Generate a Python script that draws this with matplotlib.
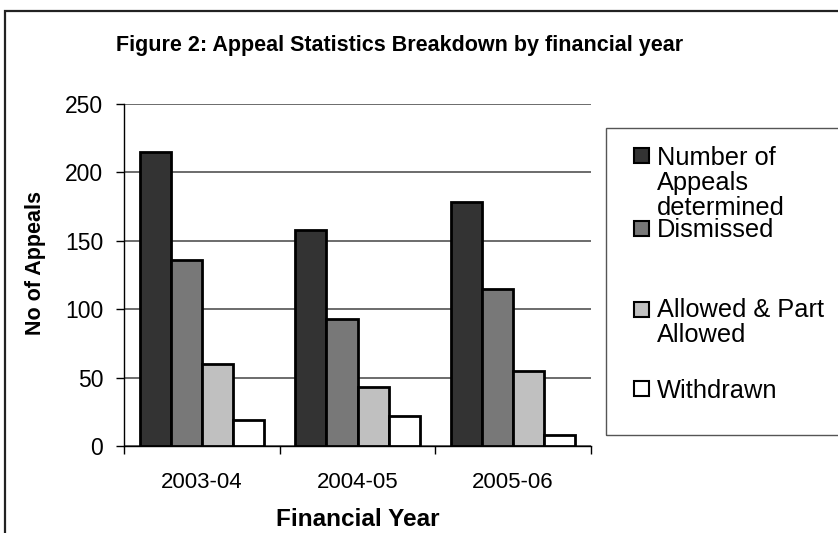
import matplotlib
matplotlib.use("Agg")
import numpy as np
import matplotlib.pyplot as plt
from matplotlib.patches import Rectangle

plt.rcParams["font.family"] = ["Liberation Sans", "DejaVu Sans"]

# Appeal counts per financial year
years = ["2003-04", "2004-05", "2005-06"]
series_names = [
    "Number of\nAppeals\ndetermined",
    "Dismissed",
    "Allowed & Part\nAllowed",
    "Withdrawn",
]
determined = [215, 158, 178]
dismissed = [136, 93, 115]
allowed = [60, 43, 55]
withdrawn = [19, 22, 8]

series_values = [determined, dismissed, allowed, withdrawn]
fills = ["#333333", "#787878", "#c0c0c0", "#ffffff"]

W, H = 838, 533
fig = plt.figure(figsize=(W / 100, H / 100), dpi=100)

def fx(px):
    return px / W

def fy(py):
    return 1 - py / H

# outer frame of the chart object (runs off the right and bottom)
fig.patches.append(Rectangle((fx(5), fy(560)), fx(900), fy(11) - fy(560),
                             transform=fig.transFigure, fill=False,
                             edgecolor="#222222", linewidth=1.6, clip_on=False))

ax = fig.add_axes([fx(124), fy(446), fx(591) - fx(124), fy(104) - fy(446)])

x = np.arange(len(years))
bar_w = 0.2
for i, (vals, fc) in enumerate(zip(series_values, fills)):
    offs = (i - 1.5) * bar_w
    ax.bar(x + offs, vals, width=bar_w, color=fc, edgecolor="black",
           linewidth=2.0, zorder=3)

ax.set_xlim(-0.5, len(years) - 0.5)
ax.set_ylim(0, 250)
ax.set_yticks(np.arange(0, 251, 50))
ax.yaxis.grid(True, color="#444444", linewidth=1.1, zorder=0)
ax.set_axisbelow(True)

ax.set_xticks(x)
ax.set_xticklabels(years)
ax.set_xticks(np.arange(-0.5, len(years)), minor=True)
ax.tick_params(axis="x", which="major", length=0, pad=19, labelsize=16)
ax.tick_params(axis="x", which="minor", length=6, width=1.0, direction="out")
ax.tick_params(axis="y", length=6, width=1.0, direction="out", pad=9,
               labelsize=16.5)

for s in ["top", "right"]:
    ax.spines[s].set_visible(False)
for s in ["left", "bottom"]:
    ax.spines[s].set_color("black")
    ax.spines[s].set_linewidth(1.0)

fig.text(fx(35), fy(263), "No of Appeals", rotation=90, ha="center",
         va="center", fontsize=15.5, fontweight="bold")
fig.text(fx(358), fy(519), "Financial Year", ha="center", va="center",
         fontsize=17.5, fontweight="bold")
fig.text(fx(400), fy(46), "Figure 2: Appeal Statistics Breakdown by financial year",
         ha="center", va="center", fontsize=15.5, fontweight="bold")

# legend box, drawn by hand so it can run off the right edge
fig.patches.append(Rectangle((fx(606), fy(435)), fx(300), fy(128) - fy(435),
                             transform=fig.transFigure, fill=False,
                             edgecolor="#555555", linewidth=1.0, clip_on=False))
square_y = [155, 228, 309, 388]
first_baseline = [165, 237, 317, 398]
line_pitch = 25
sq = 15
for name, fc, sy, by in zip(series_names, fills, square_y, first_baseline):
    fig.patches.append(Rectangle((fx(634), fy(sy + sq / 2)), fx(sq), fy(0) - fy(sq),
                                 transform=fig.transFigure, facecolor=fc,
                                 edgecolor="black", linewidth=1.5))
    for k, line in enumerate(name.split("\n")):
        fig.text(fx(657), fy(by + k * line_pitch), line, ha="left",
                 va="baseline", fontsize=18.3)

fig.savefig("out.png", dpi=100)
